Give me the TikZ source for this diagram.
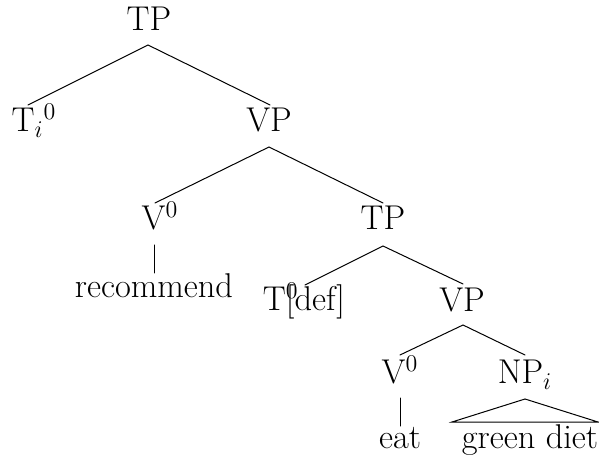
\documentclass[tikz,border=0pt]{standalone}
\usepackage{fontspec}
\usetikzlibrary{calc}
\begin{document}
\begin{tikzpicture}[x=0.5pt,y=-0.5pt,
  lbl/.style={inner sep=0pt,anchor=base,font=\fontsize{17.2pt}{20pt}\selectfont},
  branch/.style={line width=0.5pt,line cap=round}]
\useasboundingbox (0,0) rectangle (599,459);

% labels, placed by their baselines
\node[lbl] (tp1)  at (149,31)  {TP};
\node[lbl] (ti)   at (34,132)  {T$_i{}^0$};
\node[lbl] (vp1)  at (269,132) {VP};
\node[lbl] (va)   at (160,230) {V$^0$};
\node[lbl] (tp2)  at (383,230) {TP};
\node[lbl] (rec)  at (154,298) {recommend};
\node[lbl] (tdef) at (304,311) {T\rlap{$^0$}[def]};
\node[lbl] (vp2)  at (462,312) {VP};
\node[lbl] (vb)   at (400,384) {V$^0$};
\node[lbl] (np)   at (525,384) {NP$_i$};
\node[lbl] (eat)  at (400,448) {eat};
\node[lbl] (gd)   at (530,448) {green diet};

% branches
\draw[branch] ($(ti.base)+(-6,-27)$) -- ($(tp1.base)+(-1,14)$) -- ($(vp1.base)+(1,-27)$);
\draw[branch] ($(va.base)+(-5,-27)$) -- ($(vp1.base)+(0,15)$) -- ($(tp2.base)+(0,-27)$);
\draw[branch] ($(va.base)+(-6,15)$) -- ($(rec.base)+(0,-25)$);
\draw[branch] ($(tdef.base)+(1,-26)$) -- ($(tp2.base)+(0,16)$) -- ($(vp2.base)+(1,-28)$);
\draw[branch] ($(vb.base)+(0,-29)$) -- ($(vp2.base)+(1,13)$) -- ($(np.base)+(0,-29)$);
\draw[branch] ($(vb.base)+(0,14)$) -- ($(eat.base)+(0,-22)$);
\draw[branch] ($(np.base)+(0,15)$) -- ($(gd.base)+(68,-26)$) -- ($(gd.base)+(-78,-26)$) -- cycle;
\end{tikzpicture}
\end{document}
